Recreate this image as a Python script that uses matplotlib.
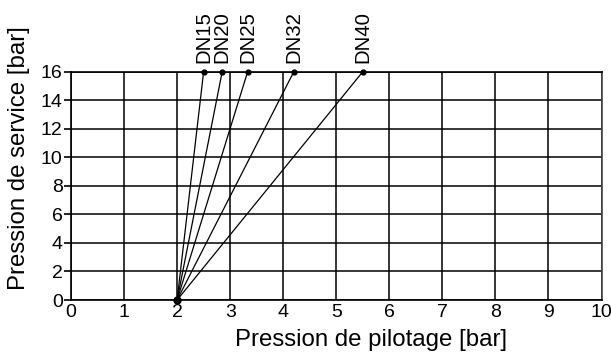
import matplotlib
matplotlib.use("Agg")
import matplotlib.pyplot as plt

plt.rcParams['font.family'] = ['Liberation Sans', 'DejaVu Sans']

# Pilot pressure needed for full service pressure, per nominal size
sizes = ["DN15", "DN20", "DN25", "DN32", "DN40"]
pilot_start = 2.0
pilot_end = [2.5, 2.85, 3.33, 4.2, 5.5]
service_start = 0.0
service_end = [16, 16, 16, 16, 16]

x_ticks = list(range(0, 11))
y_ticks = list(range(0, 17, 2))

fig = plt.figure(figsize=(6.11, 3.52), dpi=100)
ax = fig.add_axes([0.1162, 0.1477, 0.8683, 0.6486])

for name, xe, ye in zip(sizes, pilot_end, service_end):
    ax.plot([pilot_start, xe], [service_start, ye], color="black", lw=0.9,
            zorder=3, clip_on=False)
    ax.plot([xe], [ye], "o", color="black", ms=3.5, zorder=4, clip_on=False)
    ax.annotate(name, xy=(xe, ye), xytext=(0, 6), textcoords="offset points",
                rotation=90, ha="center", va="bottom", fontsize=14.7)

ax.plot([pilot_start], [service_start], "o", color="black", ms=5, zorder=5,
        clip_on=False)

ax.set_xlim(0, 10)
ax.set_ylim(0, 16)
ax.set_xticks(x_ticks)
ax.set_yticks(y_ticks)
ax.tick_params(axis="x", length=0, pad=3, labelsize=14)
ax.tick_params(axis="y", length=5, width=1.2, pad=1, labelsize=14)
ax.grid(True, color="black", lw=1.1)
ax.set_axisbelow(True)
for side in ["left", "bottom", "top", "right"]:
    ax.spines[side].set_linewidth(1.2)
ax.spines["right"].set_color("#444444")

ax.set_xlabel("Pression de pilotage [bar]", fontsize=17.3)
ax.xaxis.set_label_coords(0.565, -0.125, transform=ax.transAxes)
ax.xaxis.label.set_va("top")
ax.set_ylabel("Pression de service [bar]", fontsize=17.3)
ax.yaxis.set_label_coords(-0.077, 0.62, transform=ax.transAxes)

fig.savefig("out.png", dpi=100)
